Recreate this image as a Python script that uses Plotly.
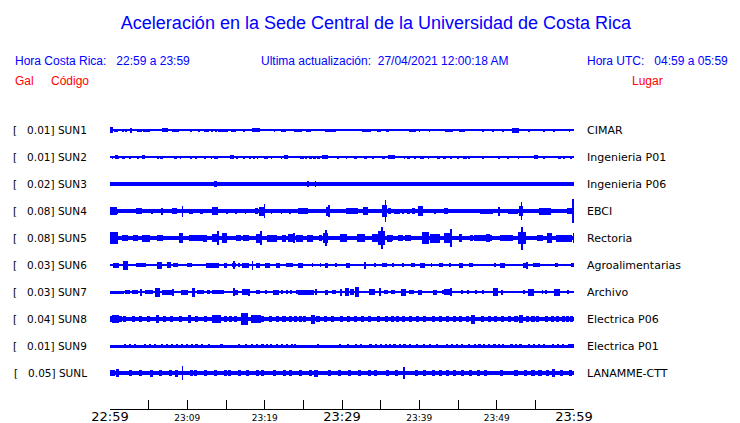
import plotly.graph_objects as go

# ---------------- data ----------------
stations = ["SUN1", "SUN2", "SUN3", "SUN4", "SUN5", "SUN6", "SUN7", "SUN8", "SUN9", "SUNL"]
gal = [0.01, 0.01, 0.02, 0.08, 0.08, 0.03, 0.03, 0.04, 0.01, 0.05]
places = ["CIMAR", "Ingenieria P01", "Ingenieria P06", "EBCI", "Rectoria",
          "Agroalimentarias", "Archivo", "Electrica P06", "Electrica P01", "LANAMME-CTT"]
# background (noise) half-amplitude of each record
noise_amp = [0.6, 0.6, 2.0, 2.0, 2.0, 0.6, 0.7, 2.2, 1.5, 2.3]

# bursts: (minute after 22:59, duration in minutes, half-amplitude)
SUN1_bursts = [(0.2,0.4,3),(0.8,0.45,1.5),(1.7,0.2,1.5),(2.1,0.2,1.5),(2.7,0.2,2.5),(3.8,0.65,1.5),
    (4.7,0.95,1.5),(7.1,0.85,2),(8.5,0.95,1.5),(10.5,0.2,1.5),(11.5,0.2,1.5),(12.5,0.65,1.5),
    (13.2,0.2,1.5),(13.7,0.2,1.5),(14.5,0.95,1.5),(15.1,0.2,1.5),(16.0,0.7,1.5),(17.3,0.2,1.5),
    (18.9,1.1,2),(21.3,0.2,1.5),(22.4,0.7,1.5),(24.3,0.95,1.5),(25.7,0.6,1.5),(28.5,1.5,1.5),
    (32.9,0.6,1.5),(33.5,0.6,1.5),(34.8,0.6,1.5),(35.9,0.4,1.5),(39.1,0.85,1.5),(40.0,0.2,1.5),
    (41.3,0.2,1.5),(43.6,0.6,1.5),(44.1,0.6,1.5),(45.4,0.6,1.5),(45.8,0.2,1.5),(48.2,0.2,1.5),
    (49.5,0.2,1.5),(50.8,0.2,1.5),(52.4,0.85,2.5),(54.2,0.2,1.5),(56.1,0.2,1.5),(57.4,0.2,1.5),
    (59.4,0.2,1.5)]
SUN2_bursts = [(0.3,0.2,1.5),(0.8,0.4,2),(1.0,0.25,1.5),(1.7,0.4,1.5),(2.6,0.2,1.5),(3.6,0.2,1.5),
    (4.3,0.4,2),(6.2,0.2,1.5),(6.7,0.4,1.5),(8.5,0.4,1.5),(9.1,0.2,1.5),(10.5,0.2,1.5),(11.1,0.2,1.5),
    (12.3,0.2,1.5),(13.1,0.2,1.5),(13.7,0.5,1.5),(15.8,0.5,2),(16.4,0.2,1.5),(17.3,0.2,1.5),
    (18.1,0.2,1.5),(18.6,0.2,1.5),(19.1,0.2,1.5),(20.2,0.5,1.5),(20.9,0.2,1.5),(22.2,0.2,1.5),
    (22.8,0.5,2),(24.8,0.5,1.5),(25.3,0.25,1.5),(25.9,0.4,1.5),(26.4,0.4,1.5),(27.0,0.4,1.5),
    (27.8,0.65,2),(29.5,0.2,1.5),(30.6,0.2,1.5),(31.7,0.4,1.5),(33.0,0.4,1.5),(34.0,0.2,1.5),
    (35.4,0.4,1.5),(36.4,0.8,2),(38.1,0.2,1.5),(38.6,0.5,1.5),(39.4,0.25,1.5),(40.3,0.5,1.5),
    (41.2,0.2,1.5),(42.5,0.4,1.5),(43.2,0.4,1.5),(44.1,0.2,1.5),(45.0,0.2,1.5),(45.9,0.4,1.5),
    (46.4,0.2,1.5),(48.2,0.2,1.5),(50.3,0.2,1.5),(51.5,0.2,1.5),(52.8,0.2,1.5),(55.1,0.5,2),
    (56.1,0.2,1.5),(58.1,0.4,1.5),(58.7,0.2,1.5),(59.6,0.2,1.5)]
SUN3_bursts = [(13.7,0.4,3.2),(25.6,0.2,2.6),(26.6,0.2,2.6),(48.2,0.25,2.4),(49.1,0.25,2.4),
    (50.4,0.25,2.4),(52.0,0.25,2.4),(53.4,0.25,2.4),(54.3,0.25,2.4),(56.2,0.25,2.4),(57.3,0.25,2.4),
    (58.2,0.25,2.4),(59.0,0.25,2.4),(59.7,0.25,2.4)]
SUN4_bursts = [(0.45,0.9,3.8),(0.8,0.4,2.5),(3.75,0.9,3),(5.4,0.2,2.5),(6.7,0.2,3.5),(8.4,0.65,3),
    (9.4,0.2,5.5),(10.5,0.5,2.5),(11.8,0.4,2.5),(13.6,0.8,4),(15.1,0.2,2.5),(16.3,0.2,2.5),
    (17.5,0.2,2.5),(19.0,0.4,3),(19.7,0.8,4.5),(20.0,0.2,7),(20.9,0.2,2.5),(22.2,0.2,2.5),
    (23.3,0.2,2.5),(25.0,1.3,3),(28.2,0.5,4.5),(28.3,0.2,6),(31.3,1.55,3),(33.0,0.65,4),
    (35.5,0.65,6),(35.6,0.2,11),(36.1,0.4,3),(37.1,0.8,2.5),(37.9,0.2,2.5),(38.6,0.5,2.5),
    (39.3,0.4,3),(40.1,0.65,5),(42.0,0.2,2.5),(43.4,0.5,3),(48.7,1.7,2.5),(50.3,0.2,4.5),
    (52.1,1.3,2.5),(53.1,0.5,5),(53.2,0.2,9),(54.5,0.4,2.2),(56.2,1.55,3.5),(59.5,0.9,3),
    (59.9,0.2,12)]
SUN5_bursts = [(0.55,1.0,6),(1.9,0.8,3),(3.3,0.65,3),(4.7,1.0,3.5),(6.5,0.8,3),(9.2,0.5,5),
    (11.1,1.8,3),(12.3,0.5,3.5),(13.6,0.8,4),(14.0,0.25,7),(14.8,0.65,5),(16.6,0.65,3),(17.6,0.8,3),
    (19.3,0.8,4.5),(19.5,0.25,7),(20.9,1.3,3.5),(22.5,0.5,3.5),(23.4,0.8,4),(23.8,0.25,5),
    (24.5,0.9,3.5),(25.9,0.8,3.5),(27.2,0.4,3),(27.9,0.65,5),(27.9,0.2,8),(30.2,0.9,4),(32.5,1.0,4),
    (34.3,0.8,4),(35.1,0.8,7),(35.2,0.25,11),(36.1,0.65,3.5),(36.5,0.2,3),(37.6,0.65,3),
    (38.5,0.8,3),(40.8,0.9,6),(42.0,1.3,4.5),(43.7,1.0,5),(44.1,0.25,9),(45.3,0.4,4),(46.7,0.4,3),
    (47.5,0.8,3),(48.6,1.55,3),(48.9,0.5,4),(51.3,1.7,3),(53.3,1.0,6),(53.3,0.25,11.5),(55.6,0.8,3),
    (56.8,0.65,5),(58.2,1.0,3.5),(59.2,1.0,3.5),(59.95,0.2,5)]
SUN6_bursts = [(0.8,0.8,2.5),(2.0,0.65,4.5),(3.6,0.4,2),(4.2,0.8,2),(6.4,0.65,3.5),(7.6,0.5,3),
    (8.5,0.65,2),(10.3,0.65,2),(13.3,1.7,2.5),(14.9,0.4,2.5),(16.0,0.5,2),(16.0,0.2,4),(16.7,0.2,2),
    (17.5,0.9,2.5),(18.4,0.2,4.5),(19.1,0.5,2.5),(20.4,0.65,2.5),(21.7,0.5,2.5),(23.0,0.5,2),
    (23.5,0.4,2),(24.6,0.65,2.5),(26.2,0.2,2),(27.2,0.2,2),(28.0,0.5,2.5),(29.2,0.25,2),
    (30.8,0.5,2.5),(33.0,0.2,3.5),(34.3,0.2,2),(35.5,0.65,2),(36.6,0.2,2),(37.9,0.2,2),
    (39.2,0.5,2),(40.4,0.65,2.5),(41.6,0.2,2),(42.8,0.4,2),(44.0,0.2,2),(45.4,0.5,2.5),
    (46.7,0.5,2),(49.8,0.2,2),(50.8,0.65,2.5),(53.7,0.65,2.5),(53.9,0.2,3.5),(55.1,0.9,2),
    (57.7,0.4,2),(59.8,0.4,2)]
SUN7_bursts = [(0.9,1.8,1.5),(2.3,0.65,1.8),(3.2,0.8,1.8),(4.0,0.25,3.5),(5.0,1.0,1.8),(6.1,0.65,4.5),
    (7.4,1.4,2.5),(8.1,0.25,3.5),(9.6,0.9,2.5),(10.8,0.5,4.5),(11.6,0.65,2),(12.0,0.4,2),
    (12.7,0.4,2),(14.0,1.55,2),(16.0,0.25,4),(16.3,0.5,2.5),(17.5,0.9,3),(18.0,0.25,3.5),
    (19.1,0.5,2),(20.2,0.2,2),(21.5,0.8,2.5),(22.2,0.25,2),(22.9,0.2,2),(23.4,0.25,2),(24.3,0.5,2),
    (25.3,2.1,2.5),(26.6,0.25,3),(28.0,0.5,2.5),(29.0,0.5,2),(29.9,0.2,3.5),(30.7,0.5,4),
    (31.3,0.5,3),(31.9,0.5,5),(33.9,0.8,3),(34.9,0.25,4),(35.7,0.5,2),(36.6,0.5,2),(37.9,0.65,3.5),
    (39.0,0.65,2),(40.1,0.5,2.5),(42.0,0.5,2.5),(43.1,0.25,2),(43.7,1.0,3),(44.1,0.25,4),
    (45.5,0.2,2),(46.3,0.2,2),(47.3,0.2,2),(48.2,0.2,2),(49.9,0.65,4),(50.7,0.25,2.5),(53.5,0.2,2),
    (54.4,0.8,3.5),(55.9,0.2,2),(56.4,0.2,2),(57.8,0.9,3.5),(59.2,0.2,2)]
SUN8_bursts = [(0.8,1.5,3.3),(0.4,0.4,4),(0.9,0.4,4.2),(1.9,0.4,3.4),(3.0,0.4,3.4),(4.0,0.4,3.4),
    (5.0,0.4,3.4),(6.2,0.4,4.2),(7.1,0.4,3.4),(8.0,0.4,3.4),(9.1,0.4,3.4),(10.3,0.4,4),(11.2,0.4,3.4),
    (12.3,0.4,3.4),(13.8,1.2,4),(14.9,0.4,3.4),(15.6,0.4,3.4),(16.2,0.4,3.4),(17.4,0.9,6),
    (18.9,1.3,4),(19.7,0.4,3.4),(20.7,0.4,3.4),(21.7,0.4,3.4),(22.5,0.4,3.4),(23.3,0.4,3.4),
    (24.0,0.4,3.4),(24.6,0.4,3.4),(25.2,0.4,3.4),(26.2,0.5,4.5),(26.9,0.4,3.4),(27.9,0.4,3.4),
    (28.8,0.4,3.4),(29.9,0.4,3.4),(30.8,0.4,3.4),(31.7,0.4,3.4),(32.6,0.4,3.4),(33.6,0.4,3.4),
    (34.7,0.4,3.4),(35.7,0.4,3.4),(36.5,0.4,3.4),(37.2,0.4,3.4),(38.0,0.4,3.4),(38.8,0.4,3.4),
    (39.8,0.4,3.4),(40.7,0.4,3.4),(41.8,0.4,3.4),(42.7,0.4,3.4),(43.6,0.4,3.4),(44.5,0.4,3.4),
    (45.3,0.4,3.4),(46.2,0.4,3.4),(46.9,0.5,4.5),(48.2,0.4,3.4),(49.1,0.4,3.4),(49.9,0.4,3.4),
    (50.8,0.4,3.4),(51.7,0.4,3.4),(52.5,0.4,3.4),(53.1,0.5,4.2),(54.0,0.4,3.4),(54.7,0.4,3.4),
    (55.3,0.4,3.4),(56.5,0.4,3.4),(57.2,0.4,3.4),(57.9,0.4,3.4),(58.6,0.4,3.4),(59.2,0.4,3.4),
    (59.7,0.4,3.4)]
SUN9_bursts = [(t, 0.3, 2.1) for t in [
    1.9, 2.6, 3.2, 4.5, 5.2, 5.8, 6.7, 7.4, 8.0, 8.7, 9.3, 10.0, 10.6, 11.2, 11.9, 12.8, 14.4, 16.7,
    17.6, 18.4, 19.0, 19.7, 20.3, 20.8, 21.6, 22.2, 22.9, 23.5, 23.9, 26.9, 29.7, 30.8, 31.8, 32.5,
    33.7, 34.4, 35.0, 35.7, 36.2, 36.8, 37.5, 38.1, 38.8, 39.7, 40.6, 41.4, 42.3, 43.6, 44.2, 44.9,
    45.5, 46.4, 47.2, 47.8, 48.4, 49.0, 49.7, 50.3, 50.8, 51.9, 52.5, 53.1, 54.2, 54.8, 55.5, 56.1,
    57.3, 57.9, 58.6, 59.4, 59.8]]
SUNL_bursts = [(0.3,0.6,3.2),(1.0,0.4,4),(2.6,0.4,3.3),(3.9,0.4,3.3),(5.4,0.4,3.5),(6.5,0.4,3.3),
    (7.8,0.4,3.3),(8.6,0.5,3.5),(9.4,0.2,7),(10.5,0.4,3.3),(11.0,0.4,3.3),(12.3,0.4,3.3),(13.6,0.4,3.3),
    (14.9,0.4,3.3),(15.5,0.4,3.3),(16.8,0.4,3.3),(17.8,0.4,3.3),(19.1,0.4,3.3),(19.7,0.4,3.3),
    (21.3,0.4,3.3),(22.6,0.4,3.3),(23.3,0.4,3.3),(24.6,0.4,3.3),(25.9,0.4,3.3),(26.6,0.5,3.5),
    (28.4,0.4,3.3),(29.7,0.4,3.3),(31.0,0.4,3.3),(32.3,0.4,3.3),(33.6,0.4,3.3),(34.3,0.4,3.3),
    (35.9,0.4,3.3),(37.0,0.4,3.3),(38.0,0.2,6),(39.6,0.4,3.3),(40.7,0.4,3.3),(41.8,0.4,3.3),
    (42.7,0.4,3.3),(43.6,0.4,3.3),(44.6,0.4,3.3),(45.6,0.4,3.3),(46.6,0.4,3.3),(47.6,0.4,3.3),
    (48.6,0.4,3.3),(50.6,0.4,3.3),(52.5,0.4,3.3),(53.7,0.4,3.3),(54.7,0.4,3.3),(55.6,0.4,3.3),
    (56.6,0.4,3.3),(57.4,0.4,4),(58.4,0.4,3.3),(59.5,0.4,3.3)]

all_bursts = [SUN1_bursts, SUN2_bursts, SUN3_bursts, SUN4_bursts, SUN5_bursts,
              SUN6_bursts, SUN7_bursts, SUN8_bursts, SUN9_bursts, SUNL_bursts]

record_minutes = 60
tick_minutes = [0, 5, 10, 15, 20, 25, 30, 35, 40, 45, 50, 55, 60]
tick_labels = ["22:59", "", "23:09", "", "23:19", "", "23:29", "", "23:39", "", "23:49", "", "23:59"]
major_labels = ["22:59", "23:29", "23:59"]

# ---------------- layout helpers ----------------
W, H = 740, 423
ML, MR, MT, MB = 110, 166, 110, 14
ROW = 27          # vertical spacing between records (y units = px)
BLUE = "#0000ff"
RED = "#ff0000"

def px_x(px):
    return (px - ML) / (W - ML - MR)

def px_y(py):
    return (H - MB - py) / (H - MT - MB)

fig = go.Figure()
for i, (name, bursts) in enumerate(zip(stations, all_bursts)):
    off = -ROW * i
    xs = [record_minutes / 2] + [b[0] for b in bursts]
    ws = [record_minutes] + [b[1] for b in bursts]
    amps = [noise_amp[i]] + [b[2] for b in bursts]
    fig.add_trace(go.Bar(
        x=xs, width=ws,
        base=[off - a for a in amps], y=[2 * a for a in amps],
        marker=dict(color=BLUE, line=dict(width=0)),
        name=name, showlegend=False, hoverinfo="skip",
    ))

ticktext = [f'<span style="font-size:13px">{t}</span>' if t in major_labels else t for t in tick_labels]

annotations = []
for i, (name, g, place) in enumerate(zip(stations, gal, places)):
    off = -ROW * i
    annotations.append(dict(x=0, y=off, xref="x", yref="y", xanchor="right", yanchor="middle",
                            xshift=-21, showarrow=False,
                            text=f"[\u00a0\u00a0\u00a0{g:.2f}] {name}",
                            font=dict(family="DejaVu Sans", size=10.5, color="black")))
    annotations.append(dict(x=record_minutes, y=off, xref="x", yref="y", xanchor="left",
                            yanchor="middle", xshift=11, showarrow=False, text=place,
                            font=dict(family="DejaVu Sans", size=11, color="black")))

hdr = dict(family="Liberation Sans, Arial, sans-serif", size=12)
def header(text, px, py, anchor, color):
    annotations.append(dict(x=px_x(px), y=px_y(py), xref="paper", yref="paper",
                            xanchor=anchor, yanchor="middle", showarrow=False,
                            text=text, font=dict(color=color, **hdr)))

header("Hora Costa Rica:\u00a0\u00a0\u00a022:59 a 23:59", 13, 61, "left", BLUE)
header("Ultima actualización:\u00a0\u00a027/04/2021 12:00:18 AM", 259, 61, "left", BLUE)
header("Hora UTC:\u00a0\u00a0\u00a004:59 a 05:59", 730, 61, "right", BLUE)
header("Gal", 13, 81, "left", RED)
header("Código", 49, 81, "left", RED)
header("Lugar", 630, 81, "left", RED)

fig.update_layout(
    width=W, height=H,
    margin=dict(l=ML, r=MR, t=MT, b=MB, pad=0, autoexpand=False),
    paper_bgcolor="white", plot_bgcolor="white",
    barmode="overlay", bargap=0,
    title=dict(text="Aceleración en la Sede Central de la Universidad de Costa Rica",
               x=376 / W, xanchor="center", y=1 - 23 / H, yanchor="middle",
               font=dict(family="Liberation Sans, Arial, sans-serif", size=18, color=BLUE)),
    xaxis=dict(range=[0, record_minutes], showgrid=False, zeroline=False, automargin=False,
               showline=True, linecolor="black", linewidth=1,
               ticks="inside", ticklen=9, tickcolor="black", tickwidth=1,
               tickvals=tick_minutes, ticktext=ticktext,
               tickfont=dict(family="DejaVu Sans", size=9, color="black"),
               fixedrange=True),
    yaxis=dict(range=[-(ROW * 9 + 36), 20], visible=False, fixedrange=True, automargin=False),
    annotations=annotations,
    showlegend=False,
)

fig.write_html("out.html", config={"displayModeBar": False, "staticPlot": True},
               post_script="document.body.style.margin='0';")
